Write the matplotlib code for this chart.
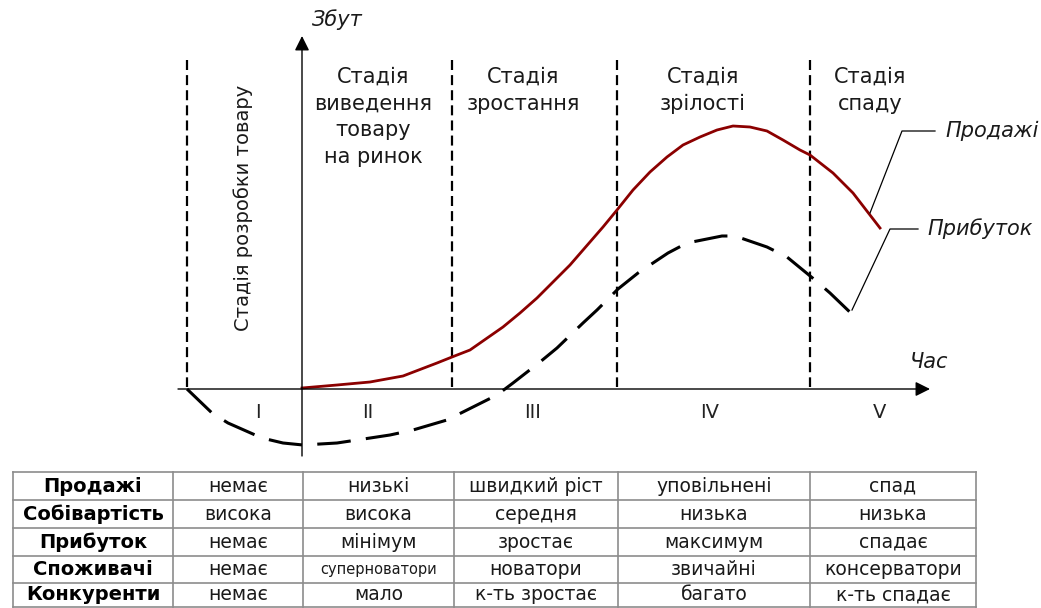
"""
Product life cycle diagram with stage table (Ukrainian labels)
"""
from matplotlib import pyplot as plt

# sales curve (dark red)
sales_x = [302, 337, 370, 403, 437, 452, 470, 503, 520, 537, 570, 603, 617,
           633, 650, 667, 683, 700, 717, 733, 750, 767, 783, 800, 810, 833, 853, 880]
sales_y = [388, 385, 382, 376, 363, 357, 350, 327, 313, 298, 265, 227, 210,
           190, 172, 157, 145, 137, 130, 126, 127, 131, 140, 150, 155, 173, 193, 228]

# profit curve (black dashed)
profit_x = [187, 212, 228, 262, 283, 303, 337, 357, 390, 413, 447, 463, 497, 513,
            540, 557, 583, 597, 618, 638, 668, 687, 722, 735, 767, 787, 815, 830, 855]
profit_y = [389, 413, 423, 438, 443, 445, 443, 440, 435, 430, 420, 412, 395, 383,
            362, 348, 323, 310, 289, 273, 253, 243, 236, 236, 247, 257, 280, 293, 317]

stage_bounds = [187, 452, 617, 810]
stage_titles = ["Стадія\nвиведення\nтовару\nна ринок", "Стадія\nзростання",
                "Стадія\nзрілості", "Стадія\nспаду"]
stage_title_x = [373, 523, 703, 870]
numerals = ["I", "II", "III", "IV", "V"]
numeral_x = [258, 368, 533, 710, 880]

row_labels = ["Продажі", "Собівартість", "Прибуток", "Споживачі", "Конкуренти"]
table_rows = [
    ["немає", "низькі", "швидкий ріст", "уповільнені", "спад"],
    ["висока", "висока", "середня", "низька", "низька"],
    ["немає", "мінімум", "зростає", "максимум", "спадає"],
    ["немає", "суперноватори", "новатори", "звичайні", "консерватори"],
    ["немає", "мало", "к-ть зростає", "багато", "к-ть спадає"],
]
col_edges = [13, 173, 303, 454, 618, 810, 976]
row_edges = [472, 500, 528, 556, 583, 607]


def main():
    plt.rcParams['font.family'] = ['DejaVu Sans']
    fig = plt.figure(figsize=(10.41, 6.08), dpi=100)
    ax = fig.add_axes([0, 0, 1, 1])
    ax.set_xlim(0, 1041)
    ax.set_ylim(608, 0)
    ax.axis('off')

    txt_c = '#1a1a1a'
    x0, y0 = 302, 389
    # axes with arrows
    ax.annotate("", xy=(930, y0), xytext=(178, y0),
                arrowprops=dict(arrowstyle='-|>', color='black', lw=1,
                                mutation_scale=22, shrinkA=0, shrinkB=0))
    ax.annotate("", xy=(x0, 36), xytext=(x0, 456),
                arrowprops=dict(arrowstyle='-|>', color='black', lw=1,
                                mutation_scale=22, shrinkA=0, shrinkB=0))
    ax.text(312, 20, "Збут", fontsize=15, style='italic', va='center', ha='left',
            color=txt_c)
    ax.text(929, 362, "Час", fontsize=15, style='italic', va='center', ha='center',
            color=txt_c)

    # stage borders
    for xb in stage_bounds:
        ax.plot([xb, xb], [60, 387], color='black', lw=1.6, ls=(0, (4.5, 2.3)))

    for t, xt in zip(stage_titles, stage_title_x):
        ax.text(xt, 67, t, fontsize=15, ha='center', va='top', linespacing=1.42,
                color=txt_c)
    ax.text(243, 208, "Стадія розробки товару", fontsize=14, rotation=90,
            ha='center', va='center', color=txt_c)

    for n, xn in zip(numerals, numeral_x):
        ax.text(xn, 413, n, fontsize=14, ha='center', va='center', color='#222222')

    # curves
    ax.plot(sales_x, sales_y, color='#8b0000', lw=2, solid_joinstyle='round')
    ax.plot(profit_x, profit_y, color='black', lw=2.2, ls=(0, (11, 5)))

    # leader lines and curve names
    ax.plot([870, 902, 935], [213, 131, 131], color='black', lw=0.9)
    ax.text(945, 131, "Продажі", fontsize=15, style='italic', va='center', ha='left',
            color=txt_c)
    ax.plot([852, 890, 918], [310, 229, 229], color='black', lw=0.9)
    ax.text(927, 229, "Прибуток", fontsize=15, style='italic', va='center', ha='left',
            color=txt_c)

    # table grid
    grid_c = '#8c8c8c'
    for yr in row_edges:
        ax.plot([col_edges[0], col_edges[-1]], [yr, yr], color=grid_c, lw=1.2)
    for xc in col_edges:
        ax.plot([xc, xc], [row_edges[0], row_edges[-1]], color=grid_c, lw=1.2)

    for i, label in enumerate(row_labels):
        yc = (row_edges[i] + row_edges[i + 1]) / 2
        ax.text((col_edges[0] + col_edges[1]) / 2, yc, label, fontsize=14,
                fontweight='bold', ha='center', va='center')
        for j, val in enumerate(table_rows[i]):
            xc = (col_edges[j + 1] + col_edges[j + 2]) / 2
            fs = 10.5 if val == "суперноватори" else 13.5
            ax.text(xc, yc, val, fontsize=fs, ha='center', va='center', color=txt_c)

    plt.savefig('out.png', dpi=100)


if __name__ == "__main__":
    main()
